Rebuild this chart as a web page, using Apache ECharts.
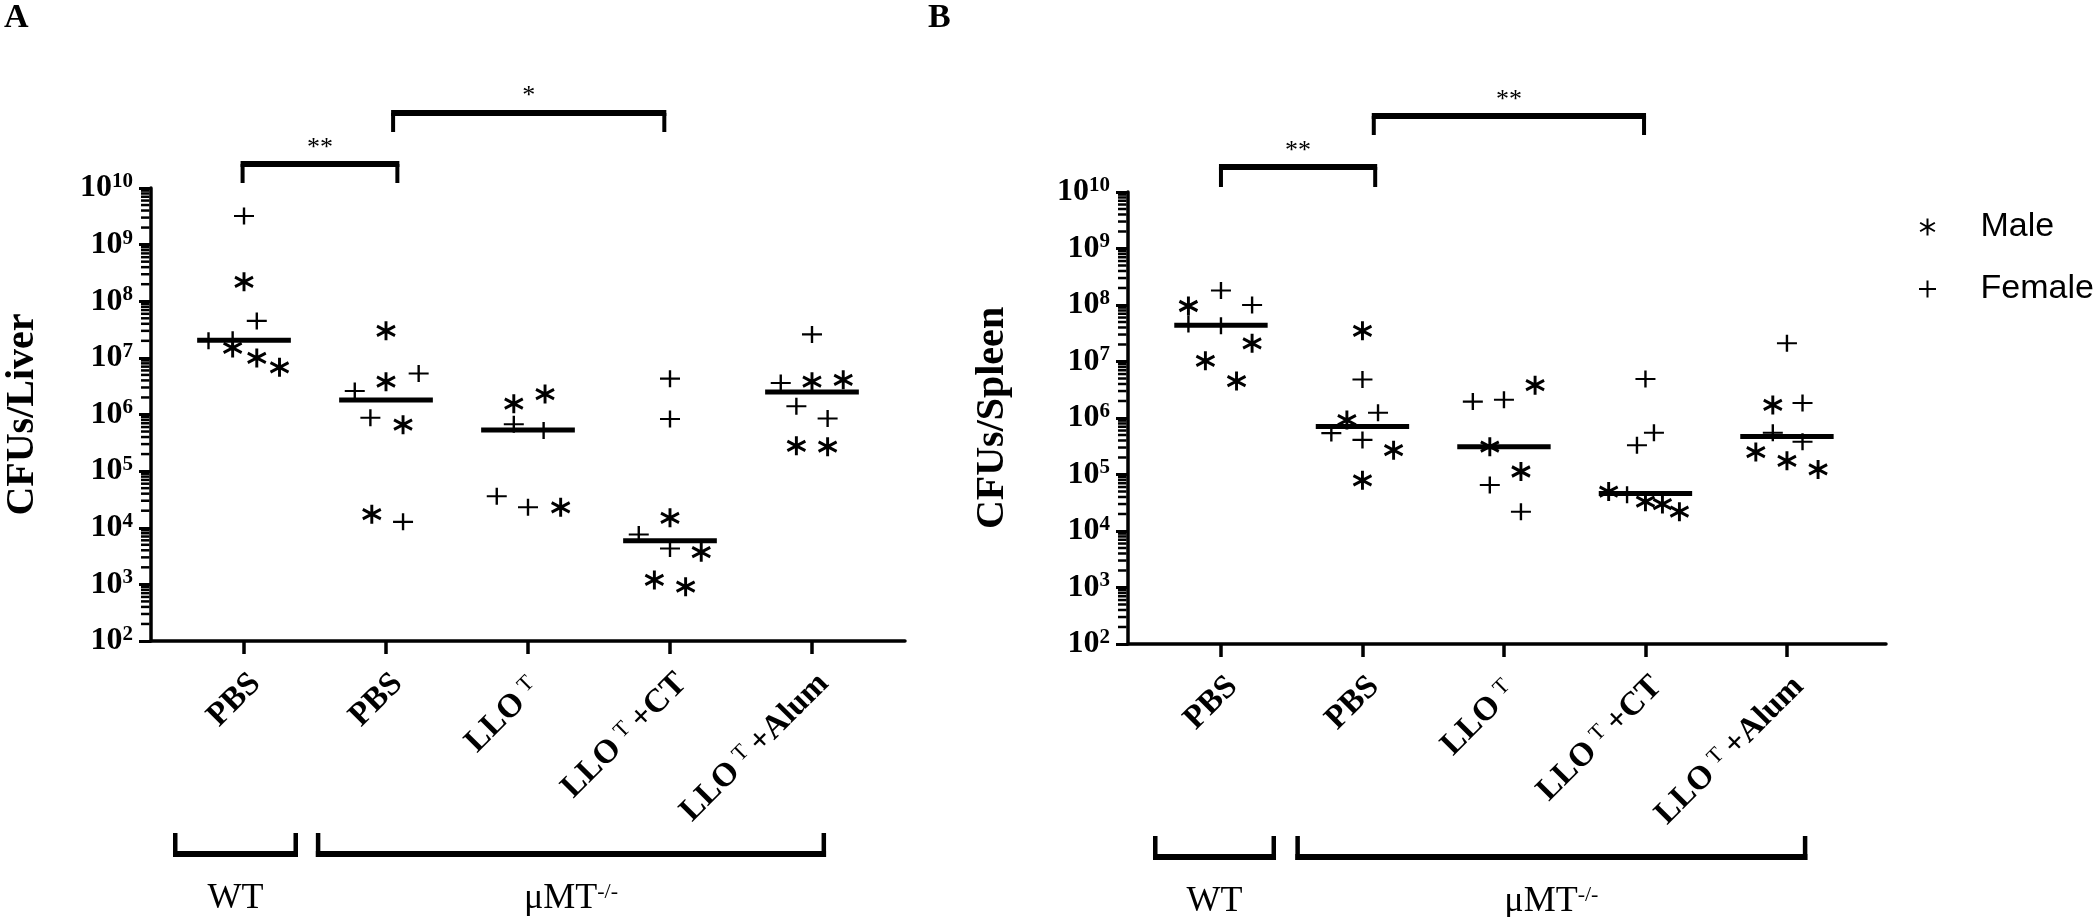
<!DOCTYPE html>
<html><head><meta charset="utf-8">
<script src="https://cdn.jsdelivr.net/npm/echarts@6/dist/echarts.min.js"></script>
<style>html,body{margin:0;padding:0;background:#fff;}#c{width:2100px;height:917px;}</style>
</head><body><div id="c"></div>
<script>
// ---------------- DATA ----------------
const categories = ['PBS', 'PBS', 'LLO^T', 'LLO^T+CT', 'LLO^T+Alum'];
const yExponents = [2, 3, 4, 5, 6, 7, 8, 9, 10];

// Panel A: CFUs/Liver
const liverMaleGroup  = [1, 1, 1, 1, 2, 2, 2, 2, 3, 3, 3, 4, 4, 4, 4, 5, 5, 5, 5];
const liverMaleJitter = [0, -0.08, 0.09, 0.25, 0, 0, 0.12, -0.1, -0.1, 0.12, 0.23, 0, 0.22, -0.11, 0.11, 0, 0.22, -0.11, 0.11];
const liverMaleCFU    = [2.2e8, 1.5e7, 1.0e7, 6.8e6, 3.0e7, 3.8e6, 6.6e5, 1.74e4, 1.55e6, 2.3e6, 2.3e4, 1.5e4, 3.7e3, 1.2e3, 9.1e2, 3.8e6, 4.1e6, 2.8e5, 2.7e5];

const liverFemaleGroup  = [1, 1, 1, 1, 2, 2, 2, 2, 3, 3, 3, 3, 4, 4, 4, 4, 5, 5, 5, 5];
const liverFemaleJitter = [0, 0.09, -0.25, -0.08, 0.23, -0.22, -0.11, 0.12, -0.1, 0.11, -0.22, 0, 0, 0, -0.22, 0, 0, -0.22, -0.11, 0.11];
const liverFemaleCFU    = [3.2e9, 4.5e7, 2.0e7, 2.1e7, 5.3e6, 2.6e6, 8.8e5, 1.27e4, 6.7e5, 5.2e5, 3.6e4, 2.3e4, 4.3e6, 8.3e5, 7.6e3, 4.3e3, 2.6e7, 3.6e6, 1.4e6, 8.5e5];

const liverMedian = [2.05e7, 1.8e6, 5.3e5, 5.9e3, 2.5e6];

// Panel B: CFUs/Spleen
const spleenMaleGroup  = [1, 1, 1, 1, 2, 2, 2, 2, 3, 3, 3, 4, 4, 4, 4, 5, 5, 5, 5];
const spleenMaleJitter = [-0.23, 0.22, -0.11, 0.11, 0, -0.11, 0.22, 0, 0.22, -0.1, 0.12, -0.26, 0, 0.12, 0.24, -0.1, -0.22, 0, 0.22];
const spleenMaleCFU    = [9.6e7, 2.1e7, 1.03e7, 4.5e6, 3.5e7, 9.2e5, 2.7e5, 7.9e4, 3.8e6, 3.1e5, 1.13e5, 5.0e4, 3.3e4, 3.0e4, 2.2e4, 1.7e6, 2.5e5, 1.75e5, 1.23e5];

const spleenFemaleGroup  = [1, 1, 1, 1, 2, 2, 2, 2, 3, 3, 3, 3, 4, 4, 4, 4, 5, 5, 5, 5];
const spleenFemaleJitter = [0, 0.22, -0.23, 0, 0, 0.11, -0.22, 0, -0.22, 0, -0.1, 0.12, 0, 0.06, -0.06, -0.13, 0, 0.11, -0.1, 0.11];
const spleenFemaleCFU    = [1.8e8, 1.0e8, 4.6e7, 4.3e7, 4.8e6, 1.24e6, 5.4e5, 4.1e5, 1.95e6, 2.1e6, 6.5e4, 2.2e4, 4.9e6, 5.5e5, 3.3e5, 4.4e4, 2.1e7, 1.85e6, 5.5e5, 3.8e5];

const spleenMedian = [4.4e7, 7.1e5, 3.1e5, 4.6e4, 4.7e5];

// significance comparisons (group indices) and labels
const liverSigPairs  = [[1, 2], [2, 4]];
const liverSigLabels = ['**', '*'];
const spleenSigPairs  = [[1, 2], [2, 4]];
const spleenSigLabels = ['**', '**'];

// genotype groupings below the axis
const genotypeSpans  = [[1, 1], [2, 5]];
const genotypeLabels = ['WT', 'μMT^-/-'];

const legendNames = ['Male', 'Female'];
const panelLetters = ['A', 'B'];
const yTitles = ['CFUs/Liver', 'CFUs/Spleen'];

// ---------------- LAYOUT / STYLE ----------------
const SERIF = '"Liberation Serif", "Times New Roman", serif';
const SANS = '"Liberation Sans", Arial, sans-serif';
const Y_MIN = Math.pow(10, yExponents[0]);
const Y_MAX = Math.pow(10, yExponents[yExponents.length - 1]);
const X_RANGE = [[0.345, 5.655], [0.343, 5.70]];
const GRIDS = [{left: 151, top: 188, width: 754, height: 453}, {left: 1128, top: 192, width: 758, height: 452}];
const NAME_GAP = [108, 115];
const SIG_LAYOUT = [
  [{dl: -0.01, dr: 0.08, bar: 24, leg: 5, lab: 40}, {dl: 0.05, dr: -0.04, bar: 75, leg: 56, lab: 92}],
  [{dl: 0.0, dr: 0.09, bar: 25, leg: 5, lab: 41}, {dl: 0.08, dr: -0.01, bar: 76, leg: 57, lab: 92}]
];
const GENO_LAYOUT = [
  [{dl: -0.486, dr: 0.366}, {dl: -0.48, dr: 0.085}],
  [{dl: -0.466, dr: 0.375}, {dl: -0.46, dr: 0.13}]
];
const asteriskPath = 'path://M10,0L10,20M1.34,5L18.66,15M1.34,15L18.66,5';
const plusPath = 'path://M10,0L10,20M0,10L20,10';

const tickValues = categories.map((_, i) => i + 1);
// minor log ticks (2..9 x 10^n) — axis decoration only
const minorTicks = [];
for (let e = yExponents[0]; e < yExponents[yExponents.length - 1]; e++) {
  for (let m = 2; m <= 9; m++) minorTicks.push(m * Math.pow(10, e));
}

function pts(groups, jitter, vals) { return vals.map((v, i) => [groups[i] + jitter[i], v]); }
function catLabel(v) {
  const s = categories[Math.round(v) - 1] || '';
  return s.replace('^T', '{t|T}');
}

function makeX(g) {
  return {
    type: 'value', gridIndex: g, min: X_RANGE[g][0], max: X_RANGE[g][1],
    splitLine: {show: false},
    axisLine: {show: true, onZero: false, lineStyle: {color: '#000', width: 3.5}},
    axisTick: {show: true, customValues: tickValues, length: 13, lineStyle: {color: '#000', width: 3.5}},
    axisLabel: {
      customValues: tickValues, rotate: 45, margin: 26, verticalAlign: 'top', formatter: catLabel,
      fontFamily: SERIF, fontWeight: 'bold', fontSize: 33, color: '#000',
      rich: {t: {fontFamily: SERIF, fontWeight: 'normal', fontSize: 22, color: '#000', verticalAlign: 'top', padding: [0, 7, 0, 7]}}
    }
  };
}
function makeY(g) {
  return {
    type: 'log', logBase: 10, gridIndex: g, min: Y_MIN, max: Y_MAX, splitNumber: 8,
    name: yTitles[g], nameLocation: 'middle', nameGap: NAME_GAP[g],
    nameTextStyle: {fontFamily: SERIF, fontWeight: 'bold', fontSize: 40, color: '#000'},
    splitLine: {show: false},
    axisLine: {show: true, onZero: false, lineStyle: {color: '#000', width: 3.5}},
    axisTick: {show: true, length: 12, lineStyle: {color: '#000', width: 3}},
    axisLabel: {
      margin: 18,
      formatter: v => '{b|10}{s|' + Math.round(Math.log10(v)) + '}',
      rich: {
        b: {fontFamily: SERIF, fontWeight: 'bold', fontSize: 32, color: '#000', lineHeight: 34},
        s: {fontFamily: SERIF, fontWeight: 'bold', fontSize: 21, color: '#000', verticalAlign: 'top', lineHeight: 22}
      }
    }
  };
}

function scatterSeries(g, name, groups, jitter, vals) {
  const male = name === 'Male';
  return {
    type: 'scatter', name, xAxisIndex: g, yAxisIndex: g, z: 4,
    data: pts(groups, jitter, vals),
    symbol: male ? asteriskPath : plusPath,
    symbolSize: male ? [18, 19] : [20, 17],
    itemStyle: {color: '#000', borderColor: '#000', borderWidth: male ? 3 : 2.2, opacity: 1},
    emphasis: {disabled: true}
  };
}
function medianSeries(g, med) {
  return {
    type: 'custom', xAxisIndex: g, yAxisIndex: g, silent: true, z: 3, clip: false,
    data: med.map((m, i) => [i + 1, m]),
    renderItem: (p, api) => {
      const x = api.value(0), y = api.value(1);
      const a = api.coord([x - 0.33, y]), b = api.coord([x + 0.33, y]);
      return {type: 'line', shape: {x1: a[0], y1: a[1], x2: b[0], y2: b[1]}, style: {stroke: '#000', lineWidth: 5}};
    }
  };
}
function sigSeries(g, pairs, labels) {
  return {
    type: 'custom', xAxisIndex: g, yAxisIndex: g, silent: true, clip: false, z: 5,
    data: pairs.map(p => [p[0], p[1]]),
    renderItem: (params, api) => {
      const i = params.dataIndex, L = SIG_LAYOUT[g][i];
      const top = params.coordSys.y;
      const x1 = api.coord([api.value(0) + L.dl, Y_MAX])[0];
      const x2 = api.coord([api.value(1) + L.dr, Y_MAX])[0];
      const barY = top - L.bar, legEnd = top - L.leg;
      return {type: 'group', children: [
        {type: 'rect', shape: {x: x1 - 2, y: barY - 3, width: x2 - x1 + 4, height: 6}, style: {fill: '#000'}},
        {type: 'rect', shape: {x: x1 - 2, y: barY, width: 4, height: legEnd - barY}, style: {fill: '#000'}},
        {type: 'rect', shape: {x: x2 - 2, y: barY, width: 4, height: legEnd - barY}, style: {fill: '#000'}},
        {type: 'text', style: {text: labels[i], x: (x1 + x2) / 2, y: top - L.lab, align: 'center', verticalAlign: 'middle',
          font: '26px ' + SERIF, fill: '#000'}}
      ]};
    }
  };
}
function genoSeries(g) {
  return {
    type: 'custom', xAxisIndex: g, yAxisIndex: g, silent: true, clip: false, z: 5,
    data: genotypeSpans.map(p => [p[0], p[1]]),
    renderItem: (params, api) => {
      const i = params.dataIndex, L = GENO_LAYOUT[g][i];
      const bottom = params.coordSys.y + params.coordSys.height;
      const x1 = api.coord([api.value(0) + L.dl, Y_MIN])[0];
      const x2 = api.coord([api.value(1) + L.dr, Y_MIN])[0];
      const legTop = bottom + 192, barBot = bottom + 216;
      const lab = genotypeLabels[i].replace(/\^(.+)$/, '{s|$1}');
      return {type: 'group', children: [
        {type: 'rect', shape: {x: x1 - 2, y: barBot - 6, width: x2 - x1 + 4, height: 6}, style: {fill: '#000'}},
        {type: 'rect', shape: {x: x1 - 2, y: legTop, width: 4.5, height: barBot - legTop}, style: {fill: '#000'}},
        {type: 'rect', shape: {x: x2 - 2.5, y: legTop, width: 4.5, height: barBot - legTop}, style: {fill: '#000'}},
        {type: 'text', style: {text: lab, x: (x1 + x2) / 2, y: bottom + 258, align: 'center', verticalAlign: 'middle',
          font: '36px ' + SERIF, fill: '#000',
          rich: {s: {fontFamily: SERIF, fontSize: 22, fill: '#000', verticalAlign: 'top', lineHeight: 22}}}}
      ]};
    }
  };
}

const chart = echarts.init(document.getElementById('c'), null, {renderer: 'canvas'});
chart.setOption({
  backgroundColor: '#fff',
  animation: false,
  grid: GRIDS.map(g => Object.assign({containLabel: false, outerBoundsMode: 'none'}, g)),
  xAxis: [makeX(0), makeX(1)],
  yAxis: [makeY(0), makeY(1)],
  legend: {
    orient: 'vertical', left: 1913, top: 205, itemWidth: 34, itemHeight: 17, itemGap: 28,
    data: legendNames, selectedMode: false,
    textStyle: {fontFamily: SANS, fontSize: 34, color: '#000', padding: [0, 0, 0, 31], lineHeight: 34}
  },
  graphic: [
    {type: 'text', id: 'letterA', left: 4, top: 1, style: {text: panelLetters[0], font: 'bold 34px ' + SERIF, fill: '#000'}},
    {type: 'text', id: 'letterB', left: 928, top: 1, style: {text: panelLetters[1], font: 'bold 34px ' + SERIF, fill: '#000'}}
  ],
  series: [
    scatterSeries(0, 'Male', liverMaleGroup, liverMaleJitter, liverMaleCFU),
    scatterSeries(0, 'Female', liverFemaleGroup, liverFemaleJitter, liverFemaleCFU),
    scatterSeries(1, 'Male', spleenMaleGroup, spleenMaleJitter, spleenMaleCFU),
    scatterSeries(1, 'Female', spleenFemaleGroup, spleenFemaleJitter, spleenFemaleCFU),
    medianSeries(0, liverMedian),
    medianSeries(1, spleenMedian),
    sigSeries(0, liverSigPairs, liverSigLabels),
    sigSeries(1, spleenSigPairs, spleenSigLabels),
    genoSeries(0),
    genoSeries(1)
  ]
});

// minor ticks on the log axes, positioned through the axes' own scales
const minorEls = [];
GRIDS.forEach((gr, g) => {
  const xPix = chart.convertToPixel({xAxisIndex: g}, X_RANGE[g][0]);
  minorTicks.forEach((v, k) => {
    const y = chart.convertToPixel({yAxisIndex: g}, v);
    minorEls.push({type: 'line', id: 'mt' + g + '_' + k, silent: true, z: 10,
      shape: {x1: xPix - 1.5, y1: y, x2: xPix - 10, y2: y}, style: {stroke: '#000', lineWidth: 2.5}});
  });
});
chart.setOption({graphic: minorEls});
</script>
</body></html>
